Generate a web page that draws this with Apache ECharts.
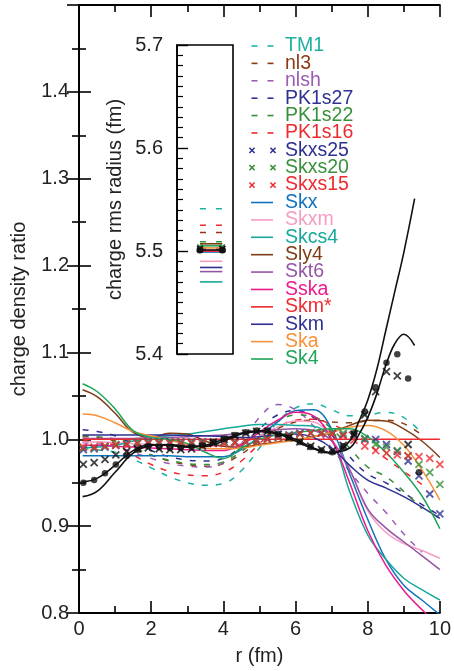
<!DOCTYPE html>
<html>
<head>
<meta charset="utf-8">
<script src="https://cdn.jsdelivr.net/npm/echarts@6/dist/echarts.min.js"></script>
<style>
  html, body { margin: 0; padding: 0; background: #fff; }
  #chart { width: 454px; height: 671px; }
</style>
</head>
<body>
<div id="chart"></div>
<script>
// r grid for the smooth model curves (fm)
const rLine = [0.1, 0.5, 1, 1.5, 2, 2.5, 3, 3.5, 4, 4.5, 5, 5.5, 6, 6.5, 7, 7.5, 8, 8.5, 9, 9.5, 10]
// r grid for the marker series (fm)
const rGrid = [0.12, 0.42, 0.72, 1.02, 1.32, 1.62, 1.92, 2.22, 2.52, 2.82, 3.12, 3.42, 3.72, 4.02, 4.32, 4.62, 4.92,
  5.22, 5.52, 5.82, 6.12, 6.42, 6.72, 7.02, 7.32, 7.62, 7.92, 8.22, 8.52, 8.82, 9.12, 9.42, 9.72, 10.0]
// r grid for the two black curves
const rBlack = [0.1, 0.5, 1, 1.5, 2, 2.5, 3, 3.5, 4, 4.5, 5, 5.5, 6, 6.5, 7, 7.5, 7.75, 8, 8.25, 8.5, 8.75, 9, 9.3]

// RMF (dashed)
const tm1 = [0.989, 0.988, 0.985, 0.977, 0.967, 0.957, 0.950, 0.947, 0.949, 0.964, 0.990, 1.020, 1.036, 1.041, 1.034, 1.027, 1.028, 1.031, 1.025, 1.007, null]
const nl3 = [1.003, 1.002, 0.998, 0.990, 0.982, 0.975, 0.971, 0.969, 0.972, 0.983, 0.998, 1.012, 1.020, 1.022, 1.020, 1.019, 1.021, 1.022, 1.018, 1.005, null]
const nlsh = [0.996, 0.995, 0.992, 0.985, 0.978, 0.972, 0.969, 0.968, 0.973, 0.995, 1.025, 1.040, 1.034, 1.015, 0.990, 0.963, 0.938, 0.916, 0.891, 0.870, null]
const pk1s27 = [1.011, 1.009, 1.004, 0.995, 0.987, 0.980, 0.976, 0.975, 0.978, 0.992, 1.012, 1.028, 1.033, 1.025, 1.005, 0.980, 0.960, 0.950, 0.938, 0.925, 0.912]
const pk1s22 = [1.004, 1.003, 1.000, 0.990, 0.982, 0.976, 0.972, 0.971, 0.974, 0.986, 1.004, 1.020, 1.028, 1.026, 1.012, 0.990, 0.968, 0.957, 0.940, 0.920, null]
const pk1s16 = [0.998, 0.997, 0.993, 0.982, 0.971, 0.963, 0.959, 0.958, 0.962, 0.975, 0.995, 1.013, 1.022, 1.023, 1.017, 1.008, 0.995, 0.978, 0.963, 0.948, null]

// Skyrme with crosses
const skxs25 = [0.988, 0.989, 0.991, 0.993, 0.995, 0.996, 0.997, 0.997, 0.997, 0.997, 0.997, 0.997, 0.997, 0.997, 0.997, 0.998, 0.999,
  1.001, 1.003, 1.005, 1.007, 1.007, 1.007, 1.007, 1.005, 1.003, 1.000, 1.000, 0.994, 0.986, 0.975, 0.958, 0.937, 0.914]
const skxs20 = [0.990, 0.990, 0.992, 0.994, 0.995, 0.996, 0.996, 0.996, 0.996, 0.996, 0.996, 0.996, 0.996, 0.996, 0.996, 0.997, 0.998,
  1.000, 1.002, 1.004, 1.006, 1.007, 1.008, 1.008, 1.007, 1.005, 1.001, 0.994, 0.991, 0.987, 0.981, 0.971, 0.962, 0.948]
const skxs15 = [0.991, 0.991, 0.992, 0.993, 0.994, 0.995, 0.995, 0.995, 0.995, 0.995, 0.995, 0.995, 0.995, 0.995, 0.996, 0.997, 0.998,
  1.000, 1.002, 1.004, 1.006, 1.007, 1.007, 1.006, 1.004, 0.999, 0.992, 0.987, 0.984, 0.982, 0.981, 0.980, 0.978, 0.971]

// Skyrme (solid)
const skx = [0.981, 0.981, 0.981, 0.981, 0.981, 0.981, 0.980, 0.980, 0.980, 0.988, 1.003, 1.020, 1.033, 1.034, 1.012, 0.960, 0.908, 0.862, 0.832, 0.815, 0.798]
const skxm = [0.997, 0.997, 0.996, 0.995, 0.994, 0.993, 0.993, 0.992, 0.992, 0.995, 1.004, 1.014, 1.021, 1.020, 1.000, 0.965, 0.918, 0.893, 0.880, 0.872, 0.863]
const skcs4 = [0.990, 0.991, 0.993, 0.998, 1.002, 1.004, 1.006, 1.009, 1.012, 1.015, 1.017, 1.017, 1.016, 1.015, 1.000, 0.940, 0.890, 0.862, 0.840, 0.827, 0.815]
const sly4 = [1.057, 1.049, 1.030, 1.008, 1.002, 1.007, 1.006, 0.998, 0.992, 0.991, 0.994, 0.997, 0.999, 1.003, 1.008, 1.016, 1.022, 1.021, 1.012, 0.998, 0.979]
const skt6 = [1.001, 1.001, 1.001, 1.001, 1.002, 1.002, 1.003, 1.004, 1.005, 1.007, 1.009, 1.011, 1.012, 1.010, 0.998, 0.965, 0.920, 0.898, 0.882, 0.866, 0.850]
const sska = [0.993, 0.993, 0.992, 0.991, 0.990, 0.989, 0.988, 0.987, 0.987, 0.994, 1.008, 1.022, 1.031, 1.027, 1.000, 0.950, 0.895, 0.855, 0.826, 0.804, 0.785]
const skmStar = [1, 1, 1, 1, 1, 1, 1, 1, 1, 1, 1, 1, 1, 1, 1, 1, 1, 1, 1, 1, 1]
const skm = [1.005, 1.005, 1.005, 1.005, 1.005, 1.005, 1.004, 1.004, 1.003, 1.002, 1.003, 1.005, 1.006, 1.002, 0.990, 0.970, 0.953, 0.944, 0.934, 0.922, 0.909]
const ska = [1.029, 1.027, 1.019, 1.009, 1.004, 0.999, 0.994, 0.990, 0.989, 0.990, 0.993, 0.996, 0.999, 1.003, 1.008, 1.014, 1.016, 1.010, 0.993, 0.965, 0.930]
const sk4 = [1.064, 1.055, 1.035, 1.010, 1.002, 1.000, 0.995, 0.985, 0.978, 0.990, 1.000, 1.005, 1.008, 1.010, 1.012, 1.012, 1.003, 0.985, 0.962, 0.935, 0.897]

// black curves and black markers
const blackA = [0.934, 0.940, 0.962, 0.984, 0.993, 0.994, 0.992, 0.992, 0.998, 1.006, 1.009, 1.006, 0.998, 0.989, 0.984, 0.998, 1.020, 1.045, 1.080, 1.125, 1.170, 1.215, 1.277]
const blackB = [0.951, 0.955, 0.970, 0.987, 0.994, 0.993, 0.991, 0.993, 1.000, 1.007, 1.010, 1.007, 1.000, 0.990, 0.985, 0.990, 1.005, 1.025, 1.052, 1.085, 1.110, 1.121, 1.108]
const blackDots = [0.950, 0.953, 0.961, 0.971, 0.981, 0.988, 0.992, 0.991, 0.990, 0.990, 0.991, 0.993, 0.997, 1.001, 1.005, 1.008, 1.010,
  1.010, 1.006, 1.002, 0.997, 0.991, 0.987, 0.985, 0.992, 1.007, 1.032, 1.060, 1.088, 1.098, 1.070, 0.962, null, null]
const blackCross = [0.971, 0.973, 0.977, 0.982, 0.986, 0.989, 0.990, 0.989, 0.988, 0.988, 0.989, 0.992, 0.996, 1.000, 1.004, 1.007, 1.009,
  1.009, 1.006, 1.002, 0.997, 0.992, 0.988, 0.987, 0.993, 1.006, 1.028, 1.055, 1.078, 1.073, 0.994, null, null, null]

// models, in legend order
const modelNames = ['TM1', 'nl3', 'nlsh', 'PK1s27', 'PK1s22', 'PK1s16', 'Skxs25', 'Skxs20', 'Skxs15',
  'Skx', 'Skxm', 'Skcs4', 'Sly4', 'Skt6', 'Sska', 'Skm*', 'Skm', 'Ska', 'Sk4']
const modelKinds = ['dash', 'dash', 'dash', 'dash', 'dash', 'dash', 'cross', 'cross', 'cross',
  'solid', 'solid', 'solid', 'solid', 'solid', 'solid', 'solid', 'solid', 'solid', 'solid']
const modelColors = ['#1fb0a2', '#8b3a12', '#9a5bb5', '#2e3192', '#39903a', '#ee2a2f', '#2e3192', '#39903a', '#ee2a2f',
  '#1273bd', '#f49cc4', '#16a89a', '#7e3c15', '#9555a6', '#ec1a8c', '#ee2a2f', '#2e3192', '#f7923a', '#1fa55a']
const modelRatios = [tm1, nl3, nlsh, pk1s27, pk1s22, pk1s16, skxs25, skxs20, skxs15,
  skx, skxm, skcs4, sly4, skt6, sska, skmStar, skm, ska, sk4]

// inset: charge rms radius (fm)
const rmsRadius = [5.541, 5.518, 5.503, 5.502, 5.509, 5.525, 5.503, 5.504, 5.502,
  5.499, 5.490, 5.470, 5.507, 5.480, 5.500, 5.500, 5.484, 5.503, 5.505]
const rmsExp = 5.501

const FONT = "'Liberation Sans', Arial, sans-serif"
const crossPath = 'path://M0,0L10,10M10,0L0,10'
const insetSpan = [0.41, 0.81]

const chart = echarts.init(document.getElementById('chart'))

const pairs = (xs, ys) => xs.map((x, i) => [x, ys[i]])

// main plot series
const series = []
modelNames.forEach((name, i) => {
  const kind = modelKinds[i]
  const color = modelColors[i]
  if (kind === 'cross') {
    series.push({
      name, type: 'scatter', xAxisIndex: 0, yAxisIndex: 0,
      data: pairs(rGrid, modelRatios[i]).filter(p => p[1] != null),
      symbol: crossPath, symbolSize: 7,
      itemStyle: { color: 'none', borderColor: color, borderWidth: 1.8 },
      z: 3,
    })
  } else {
    series.push({
      name, type: 'line', xAxisIndex: 0, yAxisIndex: 0,
      data: pairs(rLine, modelRatios[i]),
      smooth: 0.4, showSymbol: false, symbol: 'none',
      lineStyle: { color, width: 1.5, type: kind === 'dash' ? [6, 8] : 'solid' },
      z: kind === 'dash' ? 2 : 3,
    })
  }
})

series.push(
  {
    name: 'blackA', type: 'line', xAxisIndex: 0, yAxisIndex: 0,
    data: pairs(rBlack, blackA), smooth: 0.4, symbol: 'none',
    lineStyle: { color: '#111', width: 1.6 }, z: 5,
  },
  {
    name: 'blackB', type: 'line', xAxisIndex: 0, yAxisIndex: 0,
    data: pairs(rBlack, blackB), smooth: 0.4, symbol: 'none',
    lineStyle: { color: '#111', width: 1.6 }, z: 5,
  },
  {
    name: 'blackDots', type: 'scatter', xAxisIndex: 0, yAxisIndex: 0,
    data: pairs(rGrid, blackDots).filter(p => p[1] != null),
    symbol: 'circle', symbolSize: 6.5, itemStyle: { color: '#111' }, z: 6,
  },
  {
    name: 'blackCross', type: 'scatter', xAxisIndex: 0, yAxisIndex: 0,
    data: pairs(rGrid, blackCross).filter(p => p[1] != null),
    symbol: crossPath, symbolSize: 7,
    itemStyle: { color: 'none', borderColor: '#111', borderWidth: 1.8 }, z: 6,
  }
)

// inset marks: one short segment per model
const crossAt = (cx, cy, h, color) => [
  { type: 'line', shape: { x1: cx - h, y1: cy - h, x2: cx + h, y2: cy + h }, style: { stroke: color, lineWidth: 1.5 } },
  { type: 'line', shape: { x1: cx - h, y1: cy + h, x2: cx + h, y2: cy - h }, style: { stroke: color, lineWidth: 1.5 } },
]

series.push({
  name: 'inset', type: 'custom', coordinateSystem: 'cartesian2d', xAxisIndex: 2, yAxisIndex: 2,
  data: rmsRadius.map((v, i) => [0.5, v, i]).concat([[0.5, rmsExp, -1]]),
  encode: { x: 0, y: 1 },
  z: 10,
  renderItem(params, api) {
    const idx = api.value(2)
    const v = api.value(1)
    const p0 = api.coord([insetSpan[0], v])
    const p1 = api.coord([insetSpan[1], v])
    if (idx < 0) {
      return {
        type: 'group',
        children: [
          { type: 'line', shape: { x1: p0[0], y1: p0[1], x2: p1[0], y2: p1[1] }, style: { stroke: '#111', lineWidth: 1.6 } },
          { type: 'circle', shape: { cx: p0[0], cy: p0[1], r: 3.5 }, style: { fill: '#111' } },
          { type: 'circle', shape: { cx: p1[0], cy: p1[1], r: 3.5 }, style: { fill: '#111' } },
        ].concat(crossAt(p0[0], p0[1] - 1, 3, '#111'), crossAt(p1[0], p1[1] - 1, 3, '#111')),
      }
    }
    const kind = modelKinds[idx]
    const color = modelColors[idx]
    if (kind === 'cross') {
      return { type: 'group', children: crossAt(p0[0], p0[1], 2.5, color).concat(crossAt(p1[0], p1[1], 2.5, color)) }
    }
    return {
      type: 'line',
      shape: { x1: p0[0], y1: p0[1], x2: p1[0], y2: p1[1] },
      style: { stroke: color, lineWidth: 1.6, lineDash: kind === 'dash' ? [6, 10] : null },
    }
  },
})

// legend drawn as graphic entries next to the inset
const legendGraphics = []
modelNames.forEach((name, i) => {
  const y = 46 + i * 17.39
  const color = modelColors[i]
  const kind = modelKinds[i]
  if (kind === 'dash') {
    legendGraphics.push(
      { type: 'rect', shape: { x: 251.5, y: y - 0.8, width: 6, height: 1.6 }, style: { fill: color } },
      { type: 'rect', shape: { x: 267.5, y: y - 0.8, width: 6, height: 1.6 }, style: { fill: color } }
    )
  } else if (kind === 'cross') {
    legendGraphics.push(...crossAt(252, y, 2.6, color), ...crossAt(273, y, 2.6, color))
  } else {
    legendGraphics.push({ type: 'rect', shape: { x: 251, y: y - 0.8, width: 22, height: 1.6 }, style: { fill: color } })
  }
  legendGraphics.push({
    type: 'text', x: 285, y,
    style: { text: name, fill: color, fontSize: 19.5, fontFamily: FONT, verticalAlign: 'middle', align: 'left' },
  })
})

const axisLine = { show: true, lineStyle: { color: '#000', width: 1.8 } }
const labelStyle = { fontSize: 20, color: '#222', fontFamily: FONT }
const mainTicks = { show: true, inside: true, length: 12, lineStyle: { color: '#000', width: 1.6 } }
const mainMinor = { show: true, splitNumber: 2, length: 7, lineStyle: { color: '#000', width: 1.6 } }

const option = {
  backgroundColor: '#fff',
  animation: false,
  grid: [
    { left: 79, right: 9, top: 5, bottom: 57 },
    { left: 177, top: 45, width: 56, height: 309, show: true, backgroundColor: '#fff', borderColor: '#000', borderWidth: 1.6, z: 8 },
  ],
  xAxis: [
    {
      gridIndex: 0, type: 'value', min: 0, max: 10, interval: 2, position: 'bottom',
      axisLine, axisTick: mainTicks, minorTick: mainMinor, splitLine: { show: false },
      axisLabel: { ...labelStyle, margin: 6 },
      name: 'r (fm)', nameLocation: 'middle', nameGap: 33, nameTextStyle: labelStyle,
    },
    {
      gridIndex: 0, type: 'value', min: 0, max: 10, interval: 2, position: 'top',
      axisLine, axisTick: mainTicks, minorTick: mainMinor, splitLine: { show: false },
      axisLabel: { show: false },
    },
    { gridIndex: 1, type: 'value', min: 0, max: 1, show: false },
  ],
  yAxis: [
    {
      gridIndex: 0, type: 'value', min: 0.8, max: 1.5, interval: 0.1, position: 'left',
      axisLine, axisTick: mainTicks, minorTick: mainMinor, splitLine: { show: false },
      axisLabel: { ...labelStyle, margin: 10, formatter: v => (v > 1.45 ? '' : v.toFixed(1)) },
      name: 'charge density ratio', nameLocation: 'middle', nameGap: 50, nameTextStyle: labelStyle,
    },
    {
      gridIndex: 0, type: 'value', min: 0.8, max: 1.5, interval: 0.1, position: 'right',
      axisLine, axisTick: mainTicks, minorTick: mainMinor, splitLine: { show: false },
      axisLabel: { show: false },
    },
    {
      gridIndex: 1, type: 'value', min: 5.4, max: 5.7, interval: 0.1, position: 'left', z: 9,
      axisLine: { show: true, lineStyle: { color: '#000', width: 1.6 } },
      axisTick: { show: true, inside: true, length: 11, lineStyle: { color: '#000', width: 1.4 } },
      minorTick: { show: true, splitNumber: 10, length: 6, lineStyle: { color: '#000', width: 1.2 } },
      splitLine: { show: false },
      axisLabel: { ...labelStyle, margin: 14, formatter: v => v.toFixed(1) },
      name: 'charge rms radius (fm)', nameLocation: 'middle', nameGap: 52, nameTextStyle: labelStyle,
    },
  ],
  graphic: [{ type: 'group', z: 20, children: legendGraphics }],
  series,
}

chart.setOption(option)
</script>
</body>
</html>
